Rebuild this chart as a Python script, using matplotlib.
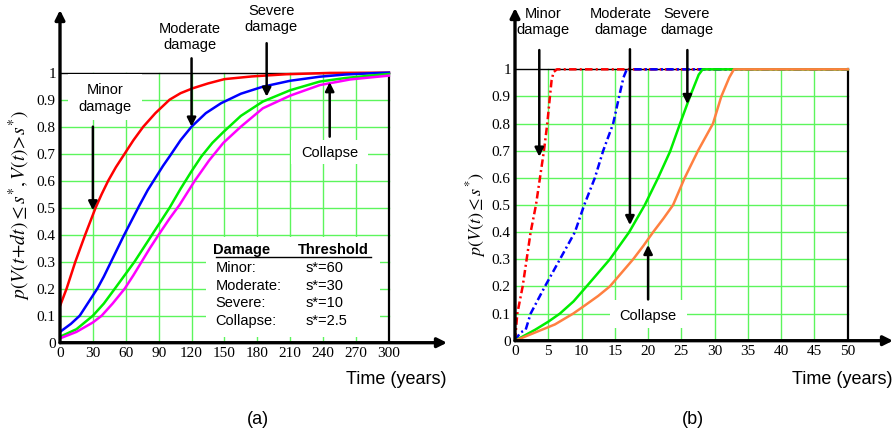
"""
Two-panel damage-state probability curves:
(a) transition probability vs time, (b) cumulative probability vs time.
"""
import matplotlib
matplotlib.use("Agg")
import matplotlib.pyplot as plt
from matplotlib.patches import Rectangle

plt.rcParams["mathtext.fontset"] = "stix"

SANS = "Liberation Sans"
SERIF = "Liberation Serif"

# ---- panel (a) data -----------------------------------------------------
a_minor_t = [0, 6, 10, 14, 23, 32.5, 38, 44, 51, 59, 67, 76, 87, 100, 110, 121,
             135, 150, 175, 206, 246, 300]
a_minor_p = [0.136, 0.2, 0.25, 0.3, 0.4, 0.5, 0.55, 0.6, 0.65, 0.7, 0.75, 0.8,
             0.85, 0.9, 0.924, 0.942, 0.96, 0.976, 0.986, 0.994, 0.999, 1.0]

a_moderate_t = [0, 10, 18, 26, 34, 40, 46, 52, 58, 65, 72, 80, 87, 94, 100, 110,
                120, 133, 147, 165, 185, 210, 237, 260, 285, 300]
a_moderate_p = [0.04, 0.07, 0.1, 0.15, 0.2, 0.245, 0.295, 0.345, 0.395, 0.45,
                0.505, 0.565, 0.61, 0.655, 0.69, 0.75, 0.8, 0.85, 0.887, 0.922,
                0.948, 0.97, 0.985, 0.993, 0.998, 1.0]

a_severe_t = [0, 15, 30, 40, 50, 59, 68, 76, 84, 92, 100, 110, 120, 129, 139,
              149, 165, 185, 210, 237, 260, 286, 300]
a_severe_p = [0.022, 0.05, 0.1, 0.145, 0.2, 0.25, 0.3, 0.35, 0.4, 0.45, 0.5,
              0.57, 0.635, 0.69, 0.74, 0.78, 0.84, 0.893, 0.935, 0.967, 0.98,
              0.99, 0.995]

a_collapse_t = [0, 15, 30, 38, 48, 59, 67, 74.5, 82, 90, 100, 109, 123, 136,
                149, 165, 185, 210, 237, 265, 300]
a_collapse_p = [0.016, 0.04, 0.075, 0.1, 0.145, 0.2, 0.25, 0.3, 0.35, 0.4, 0.46,
                0.51, 0.6, 0.675, 0.74, 0.8, 0.868, 0.915, 0.954, 0.975, 0.989]

# ---- panel (b) data -----------------------------------------------------
b_minor_t = [0, 0.35, 1.15, 1.75, 2.35, 3.15, 3.75, 4.35, 4.85, 5.25, 5.5, 5.8, 6.3, 50]
b_minor_p = [0.0, 0.1, 0.2, 0.3, 0.4, 0.5, 0.6, 0.7, 0.8, 0.9, 0.96, 0.99, 1.0, 1.0]

b_moderate_t = [0, 0.8, 1.6, 2.35, 4.5, 6.75, 9, 10.4, 12, 13.25, 14.75, 15.65,
                16.3, 16.8, 50]
b_moderate_p = [0.0, 0.03, 0.04, 0.1, 0.2, 0.3, 0.4, 0.5, 0.6, 0.7, 0.8, 0.9,
                0.97, 1.0, 1.0]

b_severe_t = [0, 3, 5, 6.75, 8.8, 10.75, 12.5, 14.25, 15.7, 17.15, 19.5, 21.5,
              23.3, 24.8, 26.3, 27.6, 28.2, 50]
b_severe_p = [0.0, 0.04, 0.07, 0.1, 0.145, 0.2, 0.25, 0.3, 0.35, 0.4, 0.5, 0.6,
              0.697, 0.8, 0.9, 0.98, 1.0, 1.0]

b_collapse_t = [0, 3, 6, 8.75, 10.5, 12.5, 14.25, 16, 17.75, 19.3, 20.75, 22.3,
                23.75, 25.5, 27.5, 29.75, 31, 32.2, 32.9, 50]
b_collapse_p = [0.0, 0.03, 0.06, 0.1, 0.13, 0.165, 0.2, 0.25, 0.3, 0.35, 0.4,
                0.45, 0.5, 0.6, 0.7, 0.8, 0.9, 0.97, 1.0, 1.0]

a_xticks = list(range(0, 301, 30))
b_xticks = list(range(0, 51, 5))
yticks = [0, 0.1, 0.2, 0.3, 0.4, 0.5, 0.6, 0.7, 0.8, 0.9, 1.0]
ytick_labels = ["0", "0.1", "0.2", "0.3", "0.4", "0.5", "0.6", "0.7", "0.8", "0.9", "1"]

table_damage = ["Minor:", "Moderate:", "Severe:", "Collapse:"]
table_threshold = ["s*=60", "s*=30", "s*=10", "s*=2.5"]

GRID = "#5cf55c"
RED = "#ff0000"
BLUE = "#0000ff"
GREEN = "#00ee00"
MAGENTA = "#ff00ff"
ORANGE = "#ff8040"

W, H = 894, 438


def px_axes(fig, x0, x1, y0, y1):
    """Axes from pixel box (x0,x1 left/right; y0 bottom px, y1 top px from top)."""
    return fig.add_axes([x0 / W, (H - y0) / H, (x1 - x0) / W, (y0 - y1) / H])


def setup_panel(ax, xmax, xlim_end, ylim_end, xticks):
    ax.set_xlim(0, xlim_end)
    ax.set_ylim(0, ylim_end)
    for s in ax.spines.values():
        s.set_visible(False)
    # grid limited to the plot box
    for x in xticks[1:-1]:
        ax.plot([x, x], [0, 1], color=GRID, lw=1.0, zorder=1)
    for y in yticks[1:-1]:
        ax.plot([0, xmax], [y, y], color=GRID, lw=1.0, zorder=1)
    ax.plot([0, xmax], [1, 1], color="black", lw=1.0, zorder=2)
    ax.plot([xmax, xmax], [0, 1], color="black", lw=1.6, zorder=2)
    # arrowed axes
    ax.annotate("", xy=(xlim_end, 0), xytext=(0, 0), annotation_clip=False,
                arrowprops=dict(arrowstyle="-|>", lw=2.4, color="black",
                                mutation_scale=14, shrinkA=0, shrinkB=0), zorder=6)
    ax.annotate("", xy=(0, ylim_end), xytext=(0, 0), annotation_clip=False,
                arrowprops=dict(arrowstyle="-|>", lw=2.4, color="black",
                                mutation_scale=14, shrinkA=0, shrinkB=0), zorder=6)
    ax.set_xticks(xticks)
    ax.set_xticklabels([str(v) for v in xticks], fontfamily=SERIF, fontsize=11)
    ax.set_yticks(yticks)
    ax.set_yticklabels(ytick_labels, fontfamily=SERIF, fontsize=11)
    ax.tick_params(length=0, pad=3)


def white_box(ax, x0, x1, y0, y1):
    ax.add_patch(Rectangle((x0, y0), x1 - x0, y1 - y0, facecolor="white",
                           edgecolor="none", zorder=3))


def label_arrow(ax, text, xy_text, start, end, box=None):
    if box is not None:
        white_box(ax, *box)
    ax.text(xy_text[0], xy_text[1], text, ha="center", va="center",
            fontfamily=SANS, fontsize=10.5, linespacing=1.25, zorder=7)
    ax.annotate("", xy=end, xytext=start, annotation_clip=False,
                arrowprops=dict(arrowstyle="-|>", lw=1.8, color="black",
                                mutation_scale=13, shrinkA=0, shrinkB=0), zorder=7)


fig = plt.figure(figsize=(W / 100, H / 100), dpi=100)

# ---------------- panel (a) ----------------
ax1 = px_axes(fig, 60, 447, 342.7, 10)
setup_panel(ax1, 300, 353, 1.232, a_xticks)
ax1.plot(a_minor_t, a_minor_p, color=RED, lw=1.8, zorder=5)
ax1.plot(a_moderate_t, a_moderate_p, color=BLUE, lw=1.8, zorder=5)
ax1.plot(a_severe_t, a_severe_p, color=GREEN, lw=1.8, zorder=5)
ax1.plot(a_collapse_t, a_collapse_p, color=MAGENTA, lw=1.8, zorder=5)

label_arrow(ax1, "Minor\ndamage", (41, 0.905), (30, 0.80), (30, 0.49),
            box=(7.5, 75, 0.825, 0.995))
label_arrow(ax1, "Moderate\ndamage", (118.5, 1.132), (120, 1.053), (120, 0.80))
label_arrow(ax1, "Severe\ndamage", (192.5, 1.199), (188.5, 1.109), (188.5, 0.911))
label_arrow(ax1, "Collapse", (246, 0.704), (246, 0.763), (246, 0.965),
            box=(211, 281, 0.66, 0.752))

# threshold table
white_box(ax1, 133.6, 292, 0.022, 0.393)
ax1.text(140, 0.343, "Damage", fontfamily=SANS, fontsize=10.5, fontweight="bold",
         ha="left", va="center", zorder=7)
ax1.text(282, 0.343, "Threshold", fontfamily=SANS, fontsize=10.5, fontweight="bold",
         ha="right", va="center", zorder=7)
ax1.plot([142, 284], [0.318, 0.318], color="black", lw=1.0, zorder=7)
for i, (d, s) in enumerate(zip(table_damage, table_threshold)):
    y = 0.277 - i * 0.0655
    ax1.text(142, y, d, fontfamily=SANS, fontsize=10.5, ha="left", va="center", zorder=7)
    ax1.text(224, y, s, fontfamily=SANS, fontsize=10.5, ha="left", va="center", zorder=7)

fig.text(20 / W, 1 - 205 / H,
         r"$p(V(t\!+\!dt)\leq s^{*},V(t)\!>\!s^{*})$",
         rotation=90, ha="center", va="center", fontsize=14)
fig.text(447 / W, 1 - 380 / H, "Time (years)", fontfamily=SANS, fontsize=13,
         ha="right", va="center")
fig.text(258 / W, 1 - 420 / H, "(a)", fontfamily=SANS, fontsize=13,
         ha="center", va="center")

# ---------------- panel (b) ----------------
ax2 = px_axes(fig, 515, 893, 340.7, 8)
setup_panel(ax2, 50, 56.8, 1.226, b_xticks)
dashdot = (3.0, 1.3, 0.8, 1.3)
ax2.plot(b_minor_t, b_minor_p, color=RED, lw=1.8, dashes=dashdot, zorder=5)
ax2.plot(b_moderate_t, b_moderate_p, color=BLUE, lw=1.8, dashes=dashdot, zorder=5)
ax2.plot(b_severe_t, b_severe_p, color=GREEN, lw=1.8, zorder=5)
ax2.plot(b_collapse_t, b_collapse_p, color=ORANGE, lw=1.8, zorder=5)

label_arrow(ax2, "Minor\ndamage", (4.2, 1.174), (3.65, 1.071), (3.65, 0.678))
label_arrow(ax2, "Moderate\ndamage", (15.9, 1.174), (17.27, 1.074), (17.27, 0.426))
label_arrow(ax2, "Severe\ndamage", (25.8, 1.174), (25.9, 1.071), (25.9, 0.872))
label_arrow(ax2, "Collapse", (20, 0.091), (20, 0.152), (20, 0.353),
            box=(14.3, 25.8, 0.046, 0.15))

fig.text(476 / W, 1 - 215 / H, r"$p(V(t)\leq s^{*})$",
         rotation=90, ha="center", va="center", fontsize=13)
fig.text(893 / W, 1 - 380 / H, "Time (years)", fontfamily=SANS, fontsize=13,
         ha="right", va="center")
fig.text(693 / W, 1 - 420 / H, "(b)", fontfamily=SANS, fontsize=13,
         ha="center", va="center")

fig.savefig("out.png", dpi=100)
